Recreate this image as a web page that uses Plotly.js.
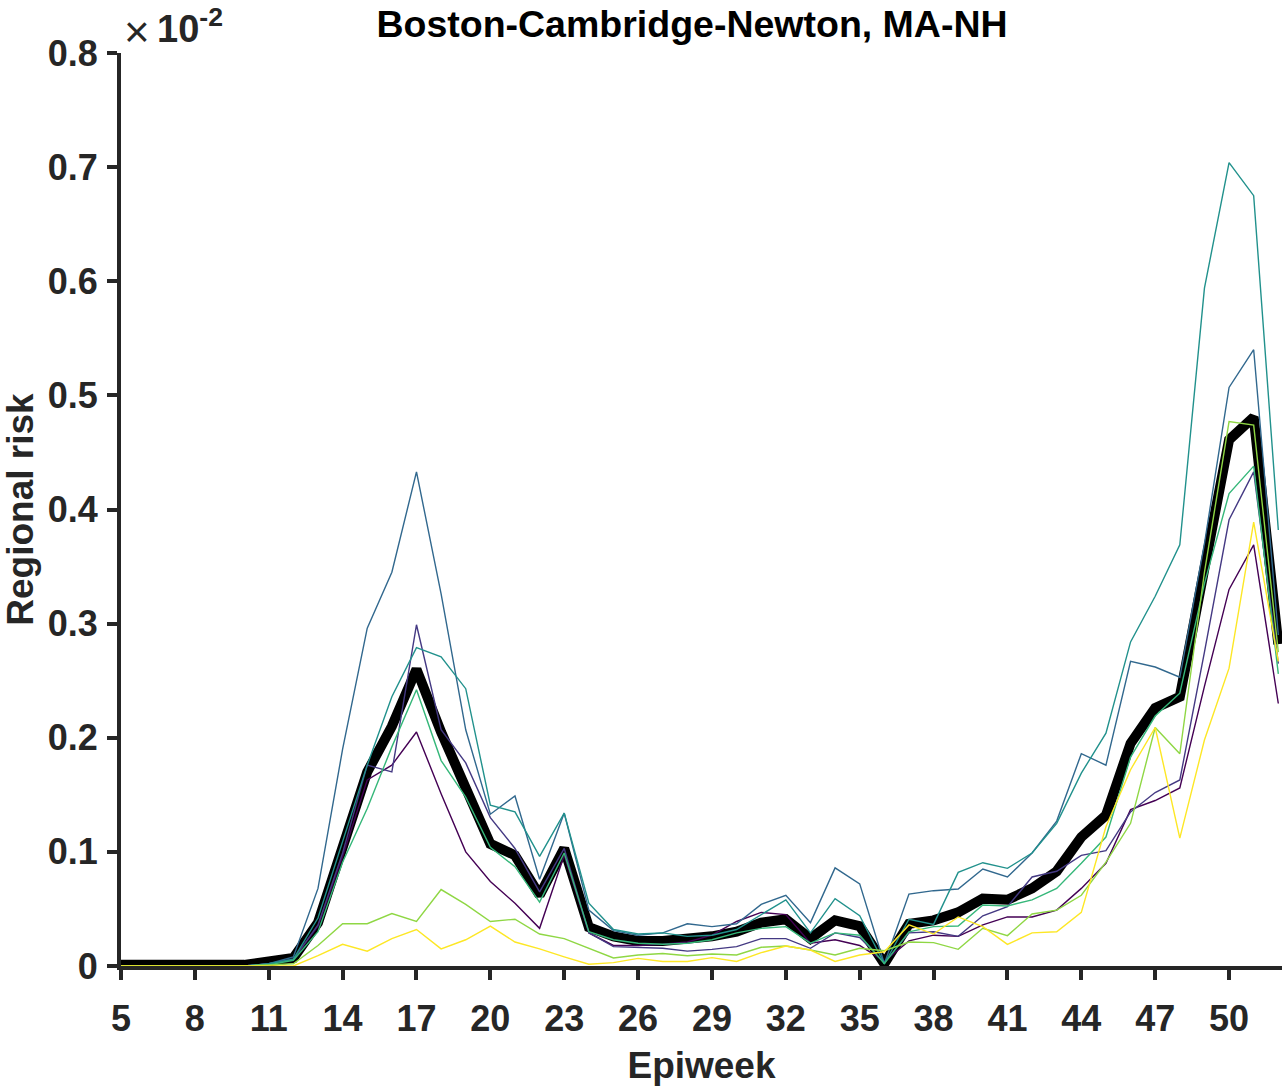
<!DOCTYPE html>
<html>
<head>
<meta charset="utf-8">
<script src="https://cdn.plot.ly/plotly-3.0.1.min.js"></script>
<style>html,body{margin:0;padding:0;background:#fff;}#chart{width:1288px;height:1086px;}</style>
</head>
<body>
<div id="chart"></div>
<script>
// Epiweeks 5..52
const weeks = [5,6,7,8,9,10,11,12,13,14,15,16,17,18,19,20,21,22,23,24,25,26,27,28,29,30,31,32,33,34,35,36,37,38,39,40,41,42,43,44,45,46,47,48,49,50,51,52];

// Regional risk (x 1e-2)
const meanRisk = [0.001,0.001,0.001,0.001,0.001,0.001,0.004,0.007,0.038,0.104,0.170,0.210,0.260,0.205,0.158,0.107,0.097,0.062,0.103,0.034,0.026,0.022,0.022,0.023,0.026,0.030,0.038,0.041,0.024,0.040,0.035,0.002,0.037,0.040,0.047,0.059,0.058,0.068,0.083,0.113,0.132,0.195,0.226,0.236,0.353,0.461,0.481,0.282];

const series1 = [0,0,0,0,0,0,0.002,0.006,0.035,0.096,0.163,0.176,0.205,0.151,0.100,0.074,0.055,0.033,0.097,0.029,0.018,0.018,0.019,0.021,0.027,0.039,0.047,0.045,0.020,0.023,0.018,0.004,0.022,0.027,0.026,0.036,0.043,0.043,0.049,0.068,0.090,0.137,0.145,0.156,0.245,0.330,0.369,0.230];
const series2 = [0,0,0,0,0,0,0.002,0.006,0.036,0.099,0.176,0.170,0.299,0.207,0.178,0.130,0.103,0.065,0.103,0.029,0.017,0.016,0.0155,0.013,0.0146,0.017,0.024,0.024,0.0155,0.029,0.025,0.003,0.029,0.030,0.026,0.044,0.052,0.078,0.083,0.097,0.101,0.135,0.152,0.163,0.275,0.391,0.433,0.265];
const series3 = [0,0,0,0,0,0,0.002,0.008,0.068,0.190,0.296,0.345,0.433,0.326,0.207,0.133,0.149,0.076,0.134,0.049,0.031,0.027,0.029,0.037,0.0345,0.037,0.054,0.062,0.038,0.086,0.072,0.002,0.063,0.066,0.0675,0.085,0.078,0.099,0.127,0.186,0.176,0.267,0.262,0.253,0.370,0.507,0.540,0.290];
const series4 = [0,0,0,0,0,0,0.002,0.006,0.042,0.108,0.176,0.236,0.279,0.271,0.243,0.141,0.135,0.096,0.134,0.055,0.032,0.028,0.029,0.026,0.027,0.032,0.045,0.058,0.029,0.059,0.044,0.002,0.041,0.0365,0.082,0.0905,0.0856,0.099,0.125,0.169,0.204,0.284,0.324,0.369,0.594,0.704,0.675,0.382];
const series5 = [0,0,0,0,0,0,0.001,0.005,0.030,0.091,0.138,0.192,0.242,0.180,0.148,0.104,0.087,0.056,0.099,0.030,0.023,0.020,0.019,0.020,0.023,0.029,0.033,0.0345,0.020,0.029,0.027,0.002,0.030,0.0345,0.035,0.0535,0.0526,0.058,0.068,0.090,0.113,0.183,0.219,0.239,0.335,0.414,0.438,0.256];
const series6 = [0,0,0,0,0,0,0.001,0.002,0.018,0.037,0.037,0.046,0.039,0.067,0.054,0.039,0.041,0.028,0.024,0.0155,0.007,0.0096,0.011,0.009,0.0105,0.0096,0.0164,0.0175,0.014,0.0096,0.0155,0.0134,0.021,0.0205,0.0146,0.033,0.0266,0.0456,0.049,0.062,0.091,0.125,0.209,0.186,0.345,0.477,0.474,0.275];
const series7 = [0,0,0,0,0,0,0,0,0.009,0.019,0.013,0.024,0.032,0.015,0.023,0.035,0.021,0.015,0.008,0.0015,0.003,0.0067,0.004,0.004,0.0073,0.004,0.0117,0.0175,0.014,0.004,0.0096,0.0125,0.036,0.028,0.043,0.0345,0.019,0.029,0.030,0.047,0.122,0.172,0.209,0.112,0.198,0.261,0.389,0.267];

const thinSeries = [series1, series2, series3, series4, series5, series6, series7];
const thinColors = ['#440154','#443983','#31688e','#21918c','#35b779','#8fd744','#fde725'];

const xTickVals = [5,8,11,14,17,20,23,26,29,32,35,38,41,44,47,50];
const xTickText = ['5','8','11','14','17','20','23','26','29','32','35','38','41','44','47','50'];
const yTickVals = [0,0.1,0.2,0.3,0.4,0.5,0.6,0.7,0.8];
const yTickText = ['0','0.1','0.2','0.3','0.4','0.5','0.6','0.7','0.8'];

const traces = [{
  x: weeks, y: meanRisk, type: 'scatter', mode: 'lines',
  line: {color: '#000000', width: 10}, hoverinfo: 'skip'
}];
thinSeries.forEach((s, i) => {
  traces.push({x: weeks, y: s, type: 'scatter', mode: 'lines',
    line: {color: thinColors[i], width: 1.4}, hoverinfo: 'skip'});
});

const font = 'Liberation Sans, Arial, Helvetica, sans-serif';
const axisColor = '#262626';

const layout = {
  width: 1288, height: 1086,
  margin: {l: 121, r: 6, t: 53, b: 120},
  paper_bgcolor: '#ffffff', plot_bgcolor: '#ffffff',
  showlegend: false,
  font: {family: font, color: axisColor},
  title: {
    text: '<b>Boston-Cambridge-Newton, MA-NH</b>',
    font: {family: font, size: 37.5, color: '#000000'},
    x: 692/1288, xref: 'container', xanchor: 'center',
    y: 1 - 24/1086, yref: 'container', yanchor: 'middle'
  },
  xaxis: {
    range: [5, 52.15], tickvals: xTickVals, ticktext: xTickText,
    ticks: 'outside', ticklen: 10, tickwidth: 4, tickcolor: axisColor,
    ticklabelstandoff: 8,
    showline: true, linewidth: 4, linecolor: axisColor,
    showgrid: false, zeroline: false,
    tickfont: {family: font, size: 36, color: axisColor, weight: 'bold'},
    title: {text: '<b>Epiweek</b>', font: {family: font, size: 37, color: axisColor}, standoff: 16}
  },
  yaxis: {
    range: [0, 0.8], tickvals: yTickVals, ticktext: yTickText,
    ticks: 'outside', ticklen: 10, tickwidth: 4, tickcolor: axisColor,
    ticklabelstandoff: 2,
    showline: true, linewidth: 4, linecolor: axisColor,
    showgrid: false, zeroline: false,
    tickfont: {family: font, size: 36, color: axisColor, weight: 'bold'},
    title: {text: '<b>Regional risk</b>', font: {family: font, size: 37, color: axisColor}, standoff: 10}
  },
  annotations: [{
    xref: 'paper', yref: 'paper', x: 0.001, y: 1.024,
    xanchor: 'left', yanchor: 'middle', showarrow: false,
    text: '×',
    font: {family: font, size: 44, color: axisColor}
  }, {
    xref: 'paper', yref: 'paper', x: 0.029, y: 1.030,
    xanchor: 'left', yanchor: 'middle', showarrow: false,
    text: '<b>10<sup>-2</sup></b>',
    font: {family: font, size: 38, color: axisColor}
  }]
};

Plotly.newPlot('chart', traces, layout, {staticPlot: true, displayModeBar: false});
</script>
</body>
</html>
